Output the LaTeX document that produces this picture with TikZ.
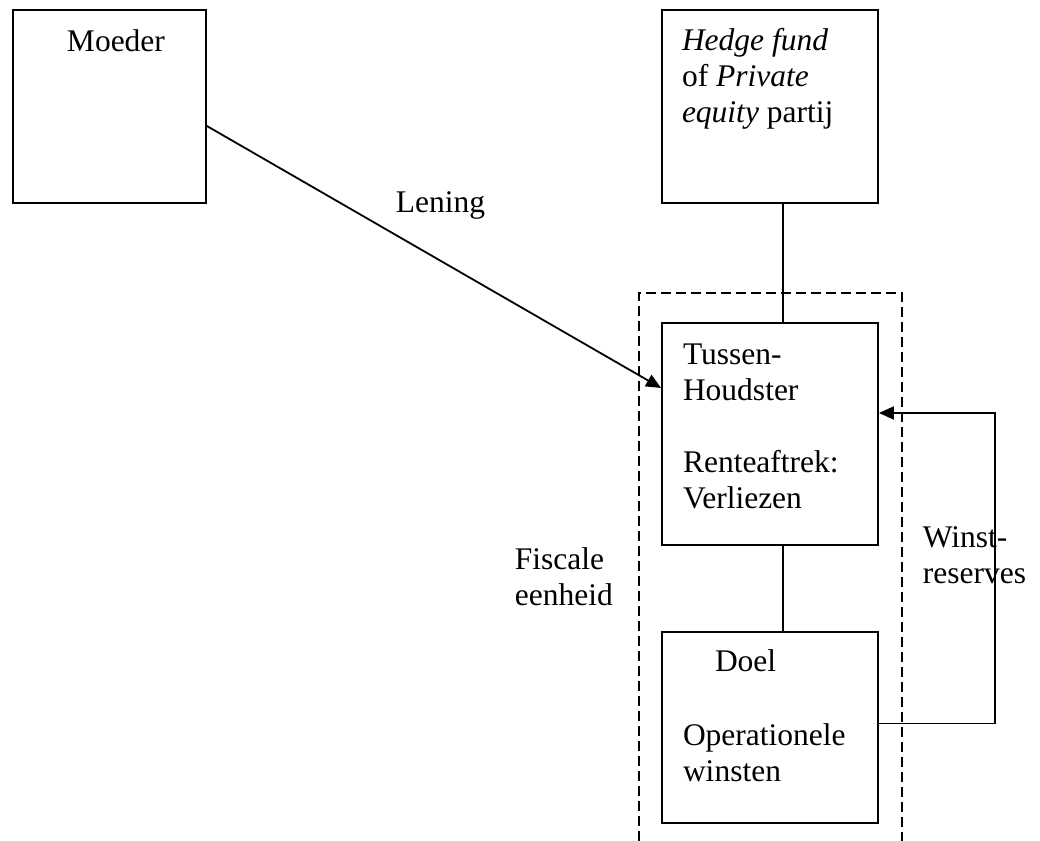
\documentclass[tikz,border=0pt]{standalone}
\usepackage{fontspec}
\setmainfont{Liberation Serif}
\usetikzlibrary{arrows.meta, positioning, calc}

\begin{document}
\begin{tikzpicture}[
    x=0.5pt, y=-0.5pt,
    line width=0.9pt,
    box/.style={draw, minimum width=108pt, inner sep=0pt},
    txt/.style={inner sep=0pt, anchor=base west, align=left, font=\fontsize{15.75}{18}\selectfont},
    link/.style={-{Triangle[length=7.5pt, width=6.5pt]}},
    group/.style={draw, dash pattern=on 5pt off 2.5pt},
]
\useasboundingbox (0,0) rectangle (1040,841);

% Boxes
\node[box, minimum width=96.5pt, minimum height=96.5pt] (moeder) at (109.5,106.5) {};
\node[box, minimum height=96.5pt] (hedge) at (770,106.5) {};
\node[box, minimum height=111pt] (tussen) at (770,434) {};
\node[box, minimum height=95.5pt] (doel) at (770,727.5) {};

% Fiscale eenheid (open at the bottom)
\draw[group] (639,841) -- (639,293) -- (902,293) -- (902,841);

% Box texts (base = last line)
\node[txt] (moedertxt) at ($(moeder.north west)+(54,42)$) {Moeder};
\node[txt] (hedgetxt) at ($(hedge.north west)+(20,113)$) {\textit{Hedge fund}\\of \textit{Private}\\\textit{equity} partij};
\node[txt] (tussentxt) at ($(tussen.north west)+(21,186)$) {Tussen-\\Houdster\\[18pt]Renteaftrek:\\Verliezen};
\node[txt] (doeltxt) at ($(doel.north west)+(53,40)$) {Doel};
\node[txt] (winstentxt) at ($(doel.north west)+(21,150)$) {Operationele\\winsten};

% Labels
\node[txt] (lening) at (395,212) {Lening};
\node[txt] (fiscaal) at (514,605) {Fiscale\\eenheid};
\node[txt] (winst) at (922,583) {Winst-\\reserves};

% Connectors
\draw[link] ($(moeder.east)+(0,19.5)$) -- ($(tussen.west)+(0,-46)$);
\draw ($(hedge.south)+(13,0)$) -- ($(tussen.north)+(13,0)$);
\draw ($(tussen.south)+(13,0)$) -- ($(doel.north)+(13,0)$);
\draw[link] ($(doel.east)+(0,-4)$) -- ++(116,0) |- ($(tussen.east)+(0,-21)$);

\end{tikzpicture}
\end{document}
